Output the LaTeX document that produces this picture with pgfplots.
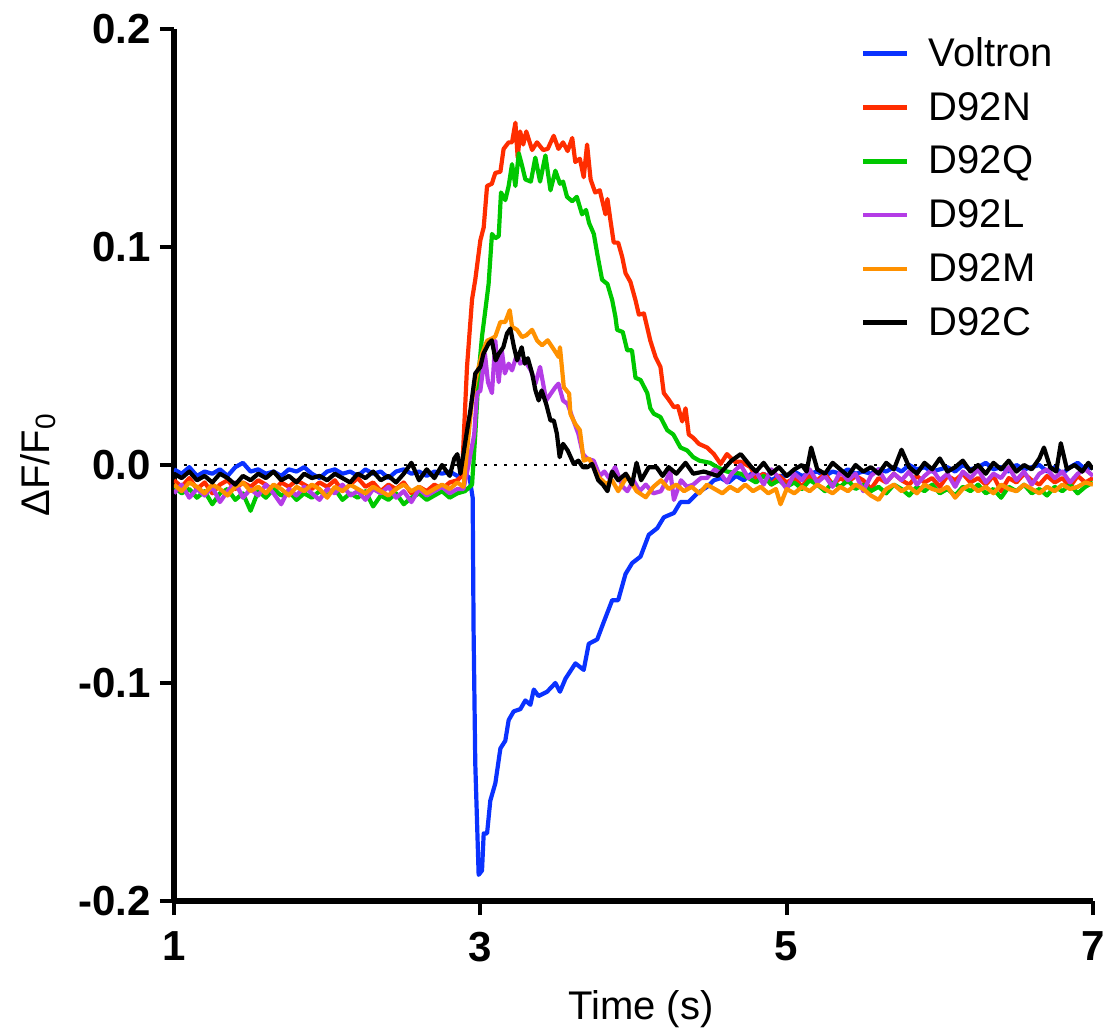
\documentclass[border=0pt]{standalone}
\usepackage{fontspec}
\setmainfont{Liberation Sans}
\usepackage{pgfplots}
\pgfplotsset{compat=1.18}

\definecolor{cVol}{RGB}{10,50,255}
\definecolor{cN}{RGB}{255,45,0}
\definecolor{cQ}{RGB}{0,200,0}
\definecolor{cL}{RGB}{180,60,230}
\definecolor{cM}{RGB}{255,145,0}

\begin{document}
\begin{tikzpicture}
\path[use as bounding box] (-87pt,-67pt) rectangle (464.5pt,450.5pt);
\begin{axis}[
  at={(0pt,0pt)}, anchor=south west,
  scale only axis,
  width=459.5pt, height=436pt,
  xmin=1, xmax=7, ymin=-0.2, ymax=0.2,
  axis x line=bottom, axis y line=left,
  axis line style={-, line width=3.3pt},
  tick align=outside,
  major tick length=7pt,
  tick style={line width=2pt, black},
  xtick={1,3,5,7},
  ytick={-0.2,-0.1,0,0.1,0.2},
  /pgf/number format/assume math mode=true,
  ticklabel style={font=\fontsize{21}{21}\selectfont\bfseries},
  xticklabel style={yshift=-5pt},
  yticklabel style={xshift=-1pt, /pgf/number format/.cd, fixed, fixed zerofill, precision=1},
  xlabel={Time (s)},
  ylabel={ΔF/F\textsubscript{0}},
  label style={font=\fontsize{20}{24}\selectfont},
  xlabel style={at={(axis description cs:0.508,-0.124)}, anchor=center},
  ylabel style={at={(axis description cs:-0.148,0.5)}, anchor=center},
  legend style={at={(0.968,1.0)}, anchor=north east, draw=none, fill=none,
    font=\fontsize{20}{24}\selectfont, row sep=7.4pt, column sep=7.5pt},
  legend cell align=left,
  legend image code/.code={\draw[#1, line width=2.2pt] (0pt,0pt) -- (22pt,0pt);},
  every axis plot/.append style={line width=2.1pt, line join=round},
]
\addplot[black, line width=1.4pt, dash pattern=on 1.3pt off 3.7pt, forget plot] coordinates {(1,0) (7,0)};

% Voltron
\addplot[cVol] coordinates {
(1.00,-0.002) (1.05,-0.004) (1.10,-0.001) (1.15,-0.005) (1.20,-0.003) (1.25,-0.004) (1.30,-0.002) (1.35,-0.005) (1.40,-0.001) (1.45,0.001)
(1.50,-0.003) (1.55,-0.002) (1.60,-0.004) (1.65,-0.003) (1.70,-0.005) (1.75,-0.002) (1.80,-0.003) (1.85,-0.001) (1.90,-0.004) (1.95,-0.006)
(2.00,-0.003) (2.05,-0.002) (2.10,-0.004) (2.15,-0.003) (2.20,-0.005) (2.25,-0.002) (2.30,-0.004) (2.35,-0.003) (2.40,-0.006) (2.45,-0.003)
(2.50,-0.002) (2.55,-0.004) (2.60,-0.003) (2.65,-0.005) (2.70,-0.003) (2.75,-0.004) (2.80,-0.003) (2.85,-0.005) (2.90,-0.004) (2.93,-0.006)
(2.950,-0.015) (2.956,-0.076) (2.967,-0.137) (2.989,-0.188) (3.011,-0.186) (3.022,-0.169) (3.044,-0.169) (3.065,-0.154) (3.098,-0.146)
(3.131,-0.130) (3.163,-0.1265) (3.185,-0.117) (3.218,-0.113) (3.261,-0.112) (3.294,-0.108) (3.327,-0.110) (3.349,-0.103) (3.38,-0.106)
(3.436,-0.104) (3.49,-0.100) (3.52,-0.104) (3.556,-0.098) (3.621,-0.091) (3.675,-0.094) (3.708,-0.082) (3.763,-0.080) (3.806,-0.072)
(3.861,-0.062) (3.90,-0.062) (3.948,-0.050) (3.991,-0.045) (4.046,-0.042) (4.10,-0.032) (4.155,-0.029) (4.198,-0.024) (4.264,-0.022)
(4.307,-0.017) (4.36,-0.017) (4.416,-0.013) (4.481,-0.010) (4.525,-0.007) (4.57,-0.006) (4.62,-0.008) (4.67,-0.005) (4.72,-0.007) (4.77,-0.004)
(4.80,-0.006) (4.85,-0.004) (4.90,-0.007) (4.95,-0.005) (5.00,-0.005) (5.05,-0.003) (5.10,-0.005) (5.15,-0.004) (5.20,-0.003) (5.25,-0.005)
(5.30,-0.003) (5.35,-0.004) (5.40,-0.002) (5.45,-0.004) (5.50,-0.003) (5.55,-0.004) (5.60,-0.002) (5.65,-0.003) (5.70,-0.001) (5.75,-0.003)
(5.80,0.000) (5.85,-0.002) (5.90,-0.001) (5.95,-0.003) (6.00,-0.002) (6.05,-0.001) (6.10,-0.003) (6.15,0.000) (6.20,-0.002) (6.25,-0.001)
(6.30,0.001) (6.35,-0.002) (6.40,-0.001) (6.45,-0.003) (6.50,0.000) (6.55,-0.002) (6.60,-0.001) (6.65,0.000) (6.70,-0.003) (6.75,-0.001)
(6.80,-0.004) (6.85,-0.001) (6.90,0.001) (6.95,-0.002) (7.00,-0.001)
};
\addlegendentry{Voltron}

% D92N
\addplot[cN] coordinates {
(1.00,-0.007) (1.05,-0.010) (1.10,-0.006) (1.15,-0.011) (1.20,-0.008) (1.25,-0.013) (1.30,-0.009) (1.35,-0.007) (1.40,-0.011) (1.45,-0.008)
(1.50,-0.010) (1.55,-0.007) (1.60,-0.009) (1.65,-0.012) (1.70,-0.008) (1.75,-0.010) (1.80,-0.007) (1.85,-0.009) (1.90,-0.011) (1.95,-0.008)
(2.00,-0.010) (2.05,-0.007) (2.10,-0.012) (2.15,-0.009) (2.20,-0.006) (2.25,-0.010) (2.30,-0.008) (2.35,-0.012) (2.40,-0.009) (2.45,-0.011)
(2.50,-0.008) (2.55,-0.013) (2.60,-0.010) (2.65,-0.012) (2.70,-0.009) (2.75,-0.011) (2.80,-0.008) (2.85,-0.007) (2.88,-0.005)
(2.913,0.045) (2.946,0.076) (2.967,0.085) (3.000,0.103) (3.022,0.109) (3.044,0.128) (3.075,0.129) (3.098,0.134) (3.131,0.1345) (3.152,0.145)
(3.185,0.148) (3.207,0.148) (3.229,0.157) (3.244,0.141) (3.26,0.153) (3.28,0.147) (3.30,0.153) (3.338,0.1445) (3.37,0.148) (3.41,0.1445)
(3.44,0.145) (3.479,0.151) (3.51,0.145) (3.54,0.148) (3.57,0.144) (3.60,0.150) (3.62,0.139) (3.65,0.1405) (3.675,0.132) (3.697,0.147)
(3.72,0.131) (3.75,0.125) (3.78,0.126) (3.817,0.115) (3.83,0.122) (3.85,0.112) (3.871,0.102) (3.90,0.102) (3.926,0.0955) (3.948,0.088)
(3.98,0.084) (4.013,0.0756) (4.035,0.069) (4.068,0.0695) (4.09,0.063) (4.11,0.057) (4.144,0.0495) (4.176,0.045) (4.198,0.033) (4.23,0.030)
(4.264,0.0265) (4.29,0.027) (4.318,0.020) (4.34,0.026) (4.361,0.014) (4.39,0.0125) (4.427,0.0097) (4.481,0.008) (4.525,0.005) (4.569,0.0005)
(4.61,0.005) (4.66,0.0015) (4.70,0.0015) (4.765,-0.001)
(4.80,-0.006) (4.85,-0.004) (4.90,-0.009) (4.95,-0.005) (5.00,-0.008) (5.05,-0.006) (5.10,-0.010) (5.15,-0.005) (5.20,-0.007) (5.25,-0.004)
(5.30,-0.009) (5.35,-0.006) (5.40,-0.008) (5.45,-0.005) (5.50,-0.007) (5.55,-0.011) (5.60,-0.006) (5.65,-0.008) (5.70,-0.004) (5.75,-0.007)
(5.80,-0.009) (5.85,-0.005) (5.90,-0.008) (5.95,-0.006) (6.00,-0.010) (6.05,-0.005) (6.10,-0.007) (6.15,-0.004) (6.20,-0.008) (6.25,-0.006)
(6.30,-0.009) (6.35,-0.005) (6.40,-0.012) (6.45,-0.006) (6.50,-0.008) (6.55,-0.004) (6.60,-0.007) (6.65,-0.009) (6.70,-0.005) (6.75,-0.008)
(6.80,-0.006) (6.85,-0.010) (6.90,-0.005) (6.95,-0.008) (7.00,-0.006)
};
\addlegendentry{D92N}

% D92Q
\addplot[cQ] coordinates {
(1.00,-0.010) (1.05,-0.013) (1.10,-0.011) (1.15,-0.015) (1.20,-0.012) (1.25,-0.018) (1.30,-0.013) (1.35,-0.011) (1.40,-0.016) (1.45,-0.013)
(1.50,-0.021) (1.55,-0.012) (1.60,-0.015) (1.65,-0.011) (1.70,-0.014) (1.75,-0.012) (1.80,-0.016) (1.85,-0.013) (1.90,-0.015) (1.95,-0.012)
(2.00,-0.014) (2.05,-0.011) (2.10,-0.016) (2.15,-0.013) (2.20,-0.015) (2.25,-0.012) (2.30,-0.019) (2.35,-0.014) (2.40,-0.016) (2.45,-0.013)
(2.50,-0.018) (2.55,-0.015) (2.60,-0.013) (2.65,-0.016) (2.70,-0.014) (2.75,-0.012) (2.80,-0.015) (2.85,-0.013) (2.90,-0.012) (2.946,-0.009)
(2.967,0.014) (2.989,0.042) (3.011,0.059) (3.03,0.0695) (3.054,0.083) (3.076,0.106) (3.098,0.104) (3.12,0.105) (3.135,0.125) (3.163,0.1215)
(3.185,0.128) (3.207,0.138) (3.229,0.128) (3.251,0.143) (3.27,0.138) (3.294,0.131) (3.33,0.130) (3.359,0.141) (3.39,0.130) (3.425,0.142)
(3.458,0.126) (3.49,0.135) (3.52,0.129) (3.54,0.130) (3.566,0.123) (3.60,0.121) (3.63,0.123) (3.664,0.115) (3.69,0.117) (3.71,0.111)
(3.741,0.106) (3.763,0.097) (3.795,0.085) (3.83,0.083) (3.861,0.0756) (3.882,0.068) (3.893,0.062) (3.93,0.061) (3.959,0.0526) (3.99,0.0526)
(4.013,0.040) (4.046,0.039) (4.09,0.033) (4.11,0.026) (4.133,0.0235) (4.176,0.022) (4.22,0.016) (4.26,0.014) (4.307,0.008) (4.35,0.0067)
(4.39,0.0036) (4.43,0.002) (4.50,0.001) (4.546,-0.001) (4.61,-0.003) (4.70,-0.004) (4.75,-0.006)
(4.80,-0.008) (4.85,-0.005) (4.90,-0.009) (4.95,-0.007) (5.00,-0.010) (5.05,-0.008) (5.10,-0.011) (5.15,-0.007) (5.20,-0.009) (5.25,-0.012)
(5.30,-0.008) (5.35,-0.010) (5.40,-0.007) (5.45,-0.011) (5.50,-0.009) (5.55,-0.012) (5.60,-0.010) (5.65,-0.013) (5.70,-0.009) (5.75,-0.011)
(5.80,-0.014) (5.85,-0.010) (5.90,-0.012) (5.95,-0.009) (6.00,-0.013) (6.05,-0.011) (6.10,-0.014) (6.15,-0.010) (6.20,-0.012) (6.25,-0.009)
(6.30,-0.013) (6.35,-0.011) (6.40,-0.015) (6.45,-0.010) (6.50,-0.012) (6.55,-0.009) (6.60,-0.013) (6.65,-0.011) (6.70,-0.014) (6.75,-0.010)
(6.80,-0.012) (6.85,-0.009) (6.90,-0.013) (6.95,-0.010) (7.00,-0.008)
};
\addlegendentry{D92Q}

% D92L
\addplot[cL] coordinates {
(1.00,-0.013) (1.05,-0.009) (1.10,-0.015) (1.15,-0.011) (1.20,-0.014) (1.25,-0.010) (1.30,-0.017) (1.35,-0.012) (1.40,-0.008) (1.45,-0.015)
(1.50,-0.011) (1.55,-0.014) (1.60,-0.009) (1.65,-0.013) (1.70,-0.018) (1.75,-0.011) (1.80,-0.014) (1.85,-0.010) (1.90,-0.013) (1.95,-0.016)
(2.00,-0.011) (2.05,-0.013) (2.10,-0.009) (2.15,-0.014) (2.20,-0.012) (2.25,-0.016) (2.30,-0.011) (2.35,-0.013) (2.40,-0.010) (2.45,-0.015)
(2.50,-0.012) (2.55,-0.017) (2.60,-0.011) (2.65,-0.014) (2.70,-0.012) (2.75,-0.010) (2.80,-0.013) (2.85,-0.011) (2.89,-0.011)
(2.92,-0.001) (2.96,0.014) (2.978,0.033) (3.00,0.034) (3.03,0.051) (3.05,0.038) (3.076,0.033) (3.098,0.057) (3.12,0.038) (3.14,0.0526)
(3.16,0.042) (3.185,0.0465) (3.207,0.0434) (3.24,0.051) (3.26,0.0465) (3.29,0.048) (3.33,0.0434) (3.36,0.0373) (3.39,0.045) (3.43,0.0296)
(3.46,0.0327) (3.49,0.0357) (3.51,0.0373) (3.54,0.0296) (3.57,0.028) (3.60,0.022) (3.64,0.0143) (3.67,0.005) (3.70,0.0028) (3.74,0.002)
(3.78,-0.005) (3.81,-0.003) (3.84,-0.006) (3.88,-0.001) (3.93,-0.010) (3.96,-0.012) (4.00,-0.007) (4.04,-0.012) (4.08,-0.009) (4.13,-0.013)
(4.18,-0.012) (4.24,-0.003) (4.264,-0.016) (4.31,-0.007) (4.35,-0.010) (4.39,-0.009) (4.44,-0.006) (4.48,-0.006) (4.53,-0.002) (4.57,-0.004)
(4.61,-0.008) (4.64,-0.004) (4.70,0.000) (4.75,-0.006)
(4.80,-0.003) (4.85,-0.009) (4.90,-0.002) (4.95,-0.006) (5.00,-0.011) (5.05,-0.004) (5.10,-0.007) (5.15,-0.002) (5.20,-0.008) (5.25,-0.005)
(5.30,-0.010) (5.35,-0.003) (5.40,-0.007) (5.45,-0.004) (5.50,-0.012) (5.55,-0.005) (5.60,-0.002) (5.65,-0.008) (5.70,-0.004) (5.75,-0.007)
(5.80,-0.003) (5.85,-0.009) (5.90,-0.005) (5.95,-0.002) (6.00,-0.007) (6.05,-0.004) (6.10,-0.010) (6.15,-0.003) (6.20,-0.006) (6.25,-0.002)
(6.30,-0.008) (6.35,-0.004) (6.40,-0.006) (6.45,-0.001) (6.50,-0.007) (6.55,-0.003) (6.60,-0.009) (6.65,-0.004) (6.70,-0.002) (6.75,-0.006)
(6.80,-0.003) (6.85,-0.008) (6.90,-0.004) (6.95,-0.002) (7.00,-0.005)
};
\addlegendentry{D92L}

% D92M
\addplot[cM] coordinates {
(1.00,-0.009) (1.05,-0.012) (1.10,-0.008) (1.15,-0.010) (1.20,-0.013) (1.25,-0.009) (1.30,-0.011) (1.35,-0.014) (1.40,-0.010) (1.45,-0.008)
(1.50,-0.012) (1.55,-0.010) (1.60,-0.013) (1.65,-0.009) (1.70,-0.011) (1.75,-0.014) (1.80,-0.010) (1.85,-0.012) (1.90,-0.009) (1.95,-0.011)
(2.00,-0.015) (2.05,-0.010) (2.10,-0.012) (2.15,-0.009) (2.20,-0.011) (2.25,-0.013) (2.30,-0.010) (2.35,-0.012) (2.40,-0.014) (2.45,-0.011)
(2.50,-0.009) (2.55,-0.012) (2.60,-0.010) (2.65,-0.013) (2.70,-0.011) (2.75,-0.009) (2.80,-0.011) (2.85,-0.008) (2.89,-0.010)
(2.924,0.0143) (2.946,0.030) (2.978,0.042) (3.011,0.051) (3.044,0.057) (3.075,0.058) (3.098,0.059) (3.131,0.0656) (3.163,0.0656) (3.192,0.071)
(3.207,0.0634) (3.24,0.062) (3.272,0.0587) (3.30,0.0595) (3.338,0.062) (3.37,0.0572) (3.403,0.0549) (3.44,0.0572) (3.48,0.053) (3.512,0.0495)
(3.52,0.054) (3.545,0.0357) (3.58,0.0327) (3.588,0.0235) (3.62,0.0188) (3.65,0.016) (3.675,0.002) (3.71,0.003) (3.74,-0.001) (3.774,-0.0056)
(3.82,-0.0087) (3.86,-0.007) (3.90,-0.012) (3.96,-0.005) (4.02,-0.012) (4.08,-0.0148) (4.13,-0.010) (4.18,-0.007) (4.23,-0.011) (4.28,-0.009)
(4.33,-0.012) (4.38,-0.010) (4.43,-0.013) (4.48,-0.009) (4.53,-0.011) (4.58,-0.013) (4.63,-0.010) (4.68,-0.012) (4.73,-0.009)
(4.78,-0.012) (4.83,-0.010) (4.88,-0.013) (4.93,-0.011) (4.96,-0.018) (5.00,-0.011) (5.05,-0.013) (5.10,-0.010) (5.15,-0.012) (5.20,-0.009)
(5.25,-0.011) (5.30,-0.013) (5.35,-0.010) (5.40,-0.012) (5.45,-0.009) (5.50,-0.011) (5.55,-0.014) (5.60,-0.016) (5.65,-0.011) (5.70,-0.009)
(5.75,-0.012) (5.80,-0.010) (5.85,-0.013) (5.90,-0.009) (5.95,-0.011) (6.00,-0.012) (6.05,-0.010) (6.10,-0.015) (6.15,-0.011) (6.20,-0.009)
(6.25,-0.012) (6.30,-0.010) (6.35,-0.013) (6.40,-0.009) (6.45,-0.011) (6.50,-0.012) (6.55,-0.009) (6.60,-0.011) (6.65,-0.013) (6.70,-0.010)
(6.75,-0.012) (6.80,-0.009) (6.85,-0.011) (6.90,-0.010) (6.95,-0.008) (7.00,-0.009)
};
\addlegendentry{D92M}

% D92C
\addplot[black] coordinates {
(1.00,-0.004) (1.05,-0.006) (1.10,-0.003) (1.15,-0.007) (1.20,-0.005) (1.25,-0.008) (1.30,-0.004) (1.35,-0.006) (1.40,-0.009) (1.45,-0.005)
(1.50,-0.007) (1.55,-0.004) (1.60,-0.006) (1.65,-0.003) (1.70,-0.007) (1.75,-0.005) (1.80,-0.008) (1.85,-0.004) (1.90,-0.006) (1.95,-0.005)
(2.00,-0.007) (2.05,-0.004) (2.10,-0.006) (2.15,-0.008) (2.20,-0.004) (2.25,-0.006) (2.30,-0.003) (2.35,-0.007) (2.40,-0.005) (2.45,-0.008)
(2.50,-0.004) (2.55,0.001) (2.60,-0.007) (2.65,-0.002) (2.70,-0.006) (2.75,0.000) (2.80,-0.005) (2.83,0.003) (2.85,0.005) (2.87,-0.004)
(2.91,0.0143) (2.935,0.025) (2.967,0.042) (3.00,0.045) (3.02,0.051) (3.054,0.0557) (3.075,0.0572) (3.10,0.048) (3.12,0.051) (3.15,0.054)
(3.174,0.0603) (3.196,0.0626) (3.22,0.054) (3.24,0.048) (3.27,0.054) (3.29,0.0465) (3.31,0.049) (3.338,0.042) (3.36,0.0342) (3.381,0.0296)
(3.40,0.0342) (3.43,0.028) (3.458,0.0204) (3.48,0.0204) (3.50,0.0143) (3.518,0.0036) (3.54,0.0097) (3.57,0.0067) (3.61,0.0005) (3.64,0.002)
(3.67,-0.001) (3.70,-0.001) (3.73,0.0005) (3.77,-0.007) (3.80,-0.009) (3.83,-0.012) (3.86,-0.003) (3.90,-0.007) (3.95,-0.004) (3.99,-0.009)
(4.02,0.001) (4.05,-0.007) (4.10,-0.001) (4.15,-0.001) (4.19,-0.005) (4.23,-0.001) (4.28,-0.004) (4.34,0.001) (4.39,-0.004) (4.46,-0.003)
(4.55,-0.005) (4.64,0.002) (4.70,0.005) (4.77,-0.001)
(4.80,-0.003) (4.85,0.001) (4.90,-0.004) (4.95,-0.001) (5.00,-0.005) (5.05,-0.002) (5.10,0.000) (5.13,-0.003) (5.16,0.008) (5.20,-0.002)
(5.25,-0.004) (5.30,0.001) (5.35,-0.002) (5.40,-0.005) (5.45,0.000) (5.50,-0.003) (5.55,-0.001) (5.60,-0.004) (5.65,0.001) (5.70,-0.002)
(5.75,0.007) (5.80,-0.001) (5.85,-0.004) (5.90,0.001) (5.95,-0.002) (6.00,0.003) (6.05,-0.003) (6.10,-0.001) (6.15,0.002) (6.20,-0.003)
(6.25,0.000) (6.30,-0.004) (6.35,0.001) (6.40,-0.002) (6.45,0.002) (6.50,-0.003) (6.55,0.000) (6.60,-0.002) (6.65,0.003) (6.68,0.008)
(6.72,-0.001) (6.76,-0.003) (6.79,0.010) (6.83,-0.002) (6.88,0.000) (6.93,-0.003) (6.97,0.001) (7.00,-0.002)
};
\addlegendentry{D92C}
\end{axis}
\end{tikzpicture}
\end{document}
